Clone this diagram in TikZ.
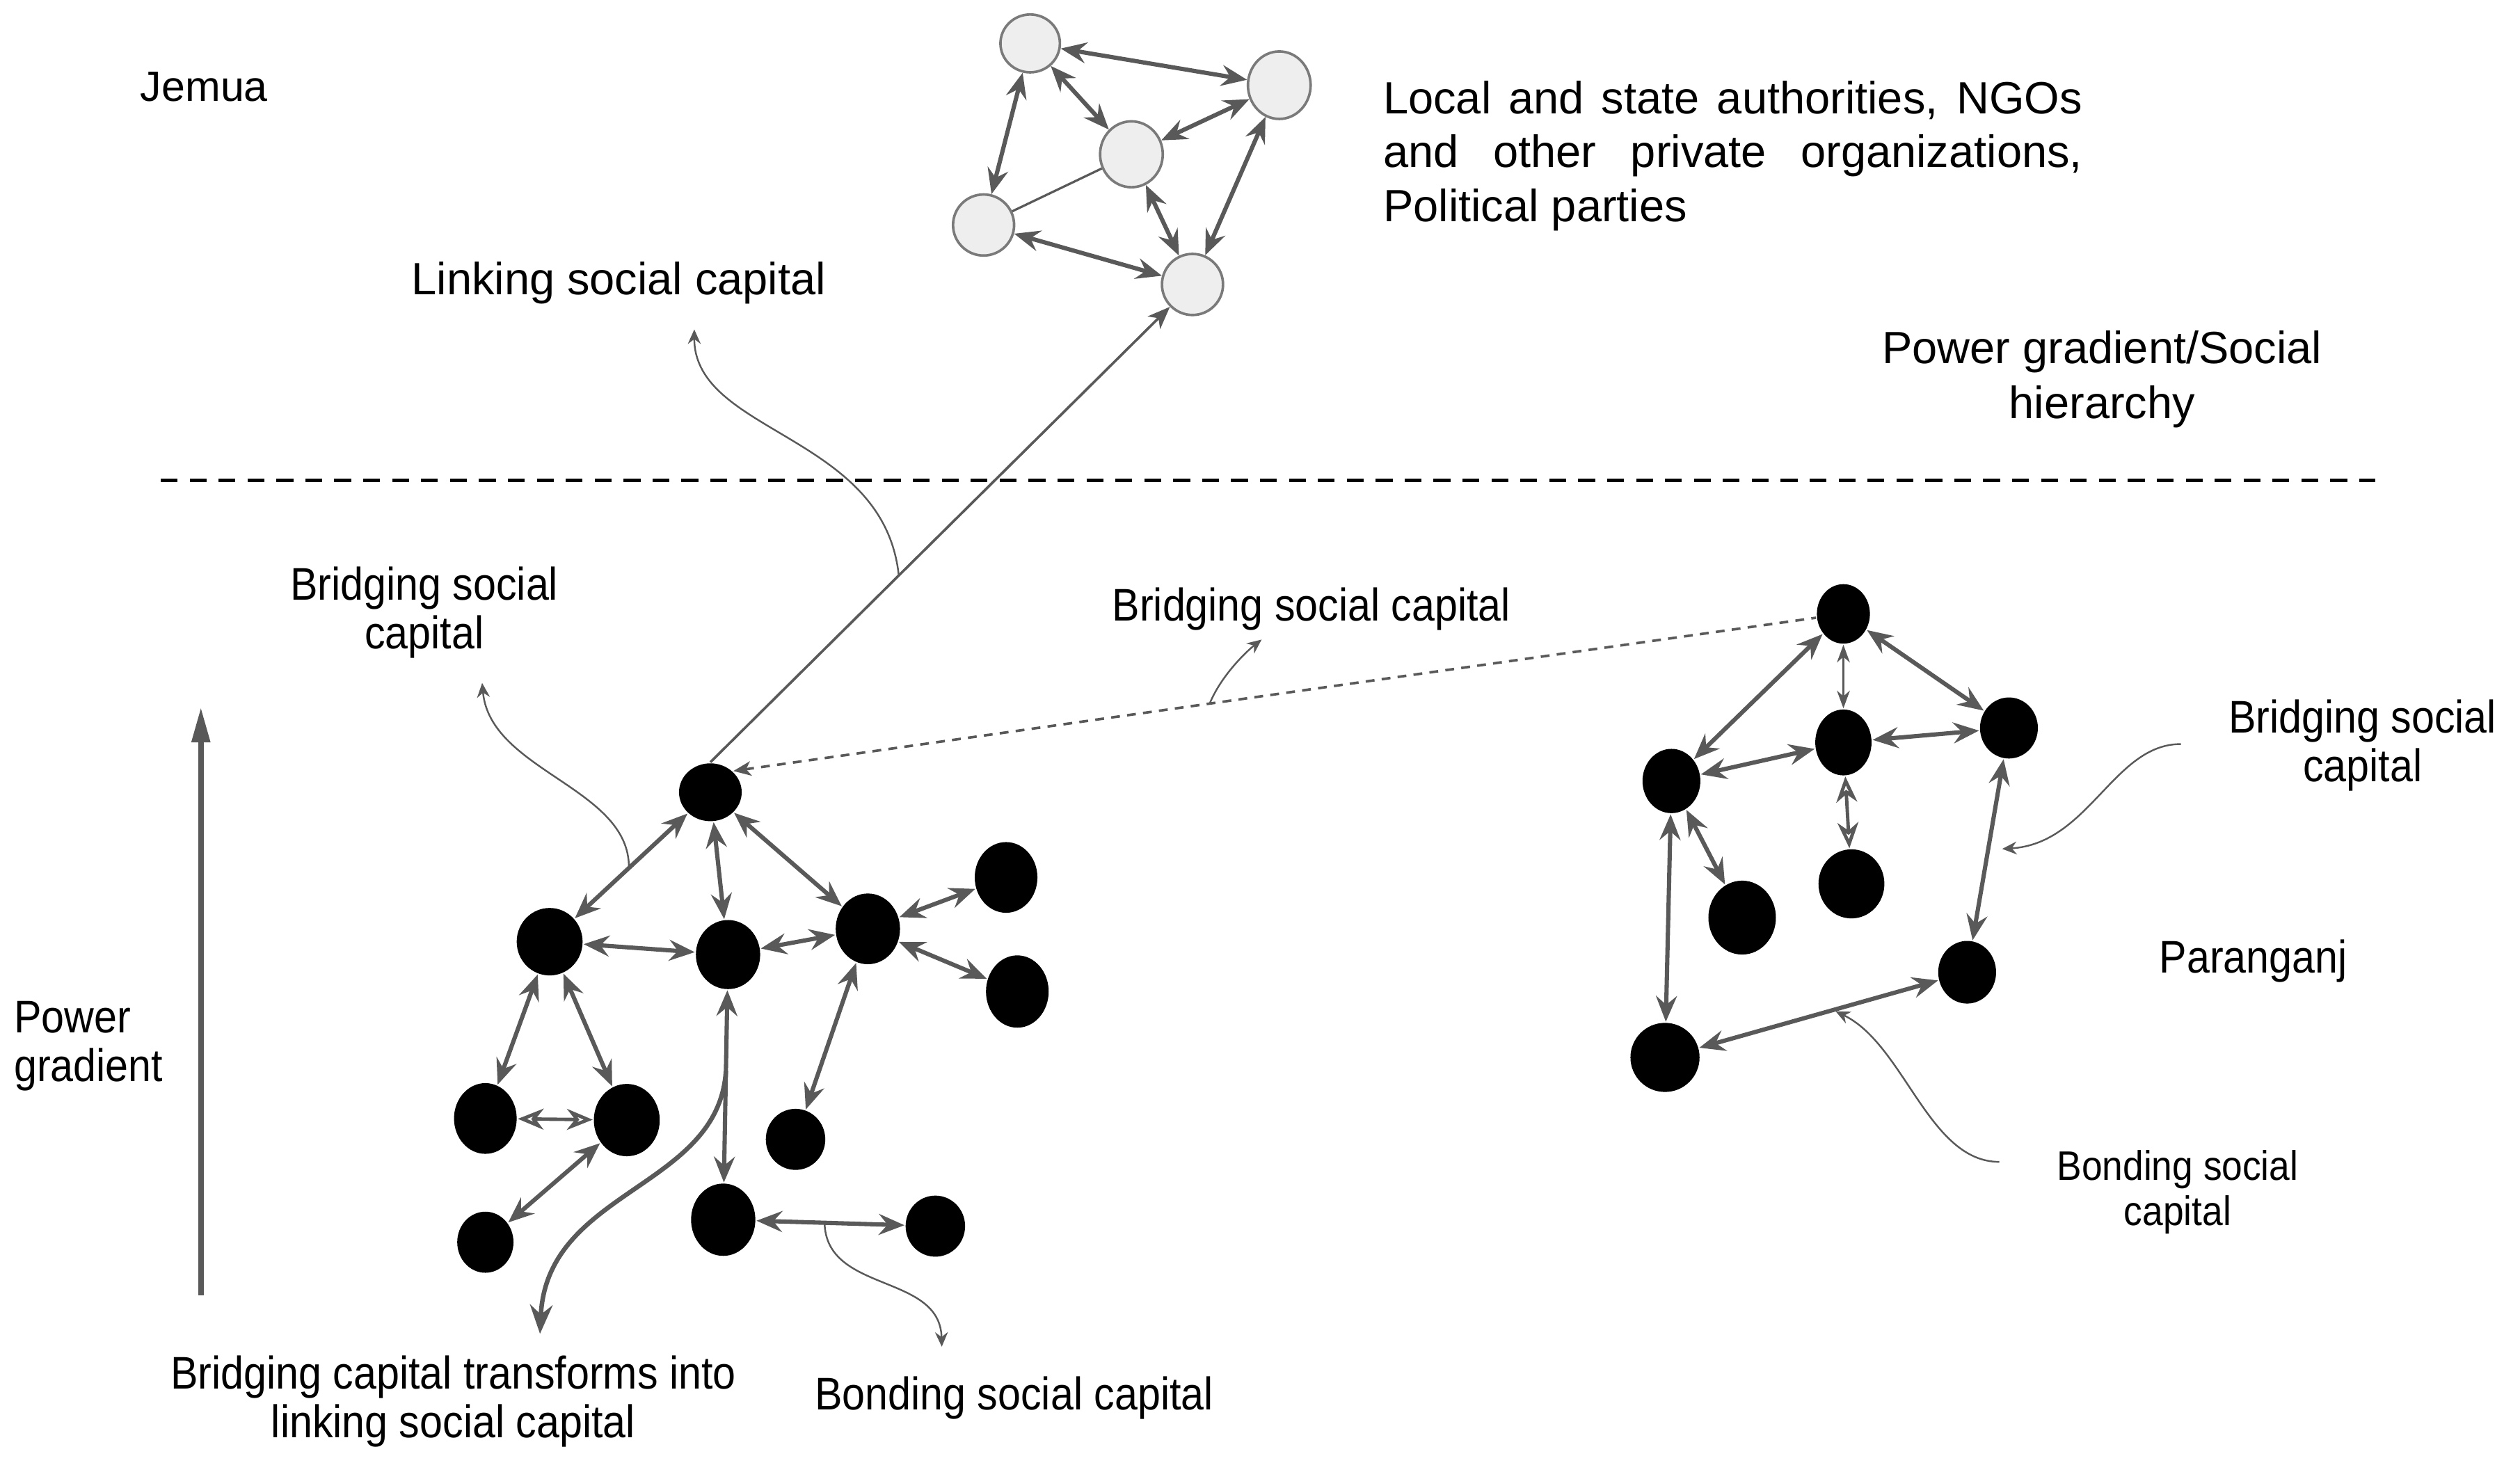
\documentclass[tikz,border=0pt]{standalone}
\usepackage{fontspec}
\setmainfont{Liberation Sans}
\newfontfamily\narrowsf[FakeStretch=0.9]{Liberation Sans}
\usetikzlibrary{arrows.meta,shapes.geometric}
\definecolor{edgegray}{HTML}{595959}
\definecolor{nodefill}{HTML}{EEEEEE}
\definecolor{nodeedge}{HTML}{7A7A7A}
\tikzset{
  gnode/.style={ellipse, draw=nodeedge, fill=nodefill, line width=0.45pt, inner sep=0pt},
  bnode/.style={ellipse, fill=black, inner sep=0pt},
  arr/.style={draw=edgegray, line width=0.75pt, {Stealth[length=1.6mm,width=1.3mm,inset=0.55mm]}-{Stealth[length=1.6mm,width=1.3mm,inset=0.55mm]}},
  tarr/.style={draw=edgegray, line width=0.35pt, {Stealth[length=1.1mm,width=0.8mm,inset=0.35mm]}-{Stealth[length=1.1mm,width=0.8mm,inset=0.35mm]}},
  harr/.style={draw=edgegray, line width=0.6pt, {Stealth[open,length=1.6mm,width=1.3mm,inset=0.5mm]}-{Stealth[open,length=1.6mm,width=1.3mm,inset=0.5mm]}},
  thinln/.style={draw=edgegray, line width=0.4pt},
  lnk/.style={draw=edgegray, line width=0.45pt, -{Stealth[length=1.4mm,width=1.1mm,inset=0.4mm]}},
  dlnk/.style={draw=edgegray, line width=0.45pt, dash pattern=on 0.55mm off 0.45mm, {Stealth[length=1.1mm,width=0.9mm,inset=0.3mm]}-},
  call/.style={draw=edgegray, line width=0.3pt, -{Stealth[length=0.9mm,width=0.8mm,inset=0.3mm]}},
  bigcall/.style={draw=edgegray, line width=0.8pt, -{Stealth[length=1.8mm,width=1.4mm,inset=0.6mm]}},
  divider/.style={draw=black, line width=0.6pt, dash pattern=on 1.05mm off 0.75mm},
  power/.style={draw=edgegray, line width=1pt, -{Triangle[length=2.2mm,width=1.1mm]}},
  lbl/.style={font=\fontsize{8}{9.6}\selectfont, align=center, inner sep=0pt},
  nlbl/.style={font=\narrowsf\fontsize{8.1}{8.6}\selectfont, align=center, inner sep=0pt},
}

\begin{document}
\begin{tikzpicture}[x=0.1mm,y=-0.1mm]
\useasboundingbox (0,0) rectangle (1568,910);
\foreach \n/\x/\y/\w/\h in {g1/641/27/3.7/3.6, g2/796/53/3.9/4.2, g3/704/96/3.9/4.1, g4/612/140/3.8/3.8, g5/742/177/3.8/3.8} {
  \node[gnode, minimum width=\w mm, minimum height=\h mm] (\n) at (\x,\y) {};
}
\foreach \n/\x/\y/\w/\h in {b1/442/493/3.9/3.6, b2/342/586/4.1/4.2, b3/453/594/4.0/4.3, b4/540/578/4.0/4.4, b5/626/546/3.9/4.4, b6/633/617/3.9/4.5, b7/302/696/3.9/4.4, b8/390/697/4.1/4.5, b9/495/709/3.7/3.8, b10/302/773/3.5/3.8, b11/450/759/4.0/4.5, b12/582/763/3.7/3.8} {
  \node[bnode, minimum width=\w mm, minimum height=\h mm] (\n) at (\x,\y) {};
}
\foreach \n/\x/\y/\w/\h in {r1/1147/382/3.3/3.7, r2/1250/453/3.6/3.8, r3/1147/462/3.5/4.1, r4/1040/486/3.6/4.0, r5/1084/571/4.2/4.6, r6/1152/550/4.1/4.3, r7/1224/605/3.6/3.9, r8/1036/658/4.3/4.3} {
  \node[bnode, minimum width=\w mm, minimum height=\h mm] (\n) at (\x,\y) {};
}
\draw[arr] (g1)--(g2); \draw[arr] (g1)--(g3); \draw[arr] (g1)--(g4); \draw[arr] (g3)--(g2);
\draw[arr] (g3)--(g5); \draw[arr] (g2)--(g5); \draw[arr] (g4)--(g5); \draw[thinln] (g4)--(g3);
\draw[arr] (b1)-- coordinate[pos=0.52] (jbl) (b2); \draw[arr] (b1)--(b3); \draw[arr] (b1)--(b4);
\draw[arr] (b2)--(b3); \draw[arr] (b3)--(b4); \draw[arr] (b4)--(b5); \draw[arr] (b4)--(b6);
\draw[arr] (b4)--(b9); \draw[arr] (b2)--(b7); \draw[arr] (b2)--(b8); \draw[harr] (b7)--(b8);
\draw[arr] (b8)--(b10); \draw[arr] (b3)-- coordinate[pos=0.42] (jtr) (b11); \draw[arr] (b11)-- coordinate[pos=0.46] (jbo) (b12);
\draw[arr] (r1)--(r4); \draw[tarr] (r1)--(r3); \draw[arr] (r1)--(r2); \draw[arr] (r2)--(r3);
\draw[arr] (r3)--(r4); \draw[harr] (r3)--(r6); \draw[arr] (r4)--(r5); \draw[arr] (r4)--(r8);
\draw[arr] (r2)-- coordinate[pos=0.5] (jrb) (r7); \draw[arr] (r7)-- coordinate[pos=0.44] (jrbo) (r8);
\draw[lnk] (b1.north)-- coordinate[pos=0.41] (jl) (g5);
\draw[dlnk] (b1.north east)-- coordinate[pos=0.44] (jbm) (r1);
\coordinate (dl) at (100,299); \coordinate (dr) at (1478,299);
\draw[divider] (dl)--(dr);
\coordinate (pg0) at (125,806); \coordinate (pg1) at (125,440);
\draw[power] (pg0)--(pg1);
\coordinate (tl) at (432,205); \coordinate (tbl) at (300,425); \coordinate (tbm) at (785,398);
\coordinate (ttr) at (336,830); \coordinate (tbo) at (586,838);
\coordinate (srb) at (1357,463); \coordinate (srbo) at (1244,723);
\draw[call] (jl) .. controls (550,270) and (432,270) .. (tl);
\draw[call] (jbl) .. controls (392,490) and (305,480) .. (tbl);
\draw[call] (jbm) .. controls (760,420) and (776,405) .. (tbm);
\draw[bigcall] (jtr) .. controls (447,740) and (340,740) .. (ttr);
\draw[call] (jbo) .. controls (514,805) and (585,792) .. (tbo);
\draw[call, shorten >=2.5pt] (srb) .. controls (1315,463) and (1300,525) .. (jrb);
\draw[call, shorten >=0.5pt] (srbo) .. controls (1200,723) and (1185,650) .. (jrbo);
\node[lbl, font=\fontsize{7.5}{9}\selectfont] (jemua) at (127,54) {Jemua};
\node[lbl, anchor=west, text width=43.5mm, align=justify, font=\fontsize{8}{9.5}\selectfont] (actors) at (860,97) {Local and state authorities, NGOs and other private organizations, Political parties};
\node[lbl] (linking) at (385,176) {Linking social capital};
\node[lbl, font=\fontsize{8}{9.7}\selectfont] (hier) at (1308,236) {Power gradient/Social\\hierarchy};
\node[nlbl] (brl) at (264,381) {Bridging social\\capital};
\node[nlbl] (brm) at (816,379) {Bridging social capital};
\node[nlbl, anchor=west, align=left] (pgl) at (8,651) {Power\\gradient};
\node[nlbl] (trl) at (282,872) {Bridging capital transforms into\\linking social capital};
\node[nlbl] (bol) at (631,870) {Bonding social capital};
\node[nlbl] (brr) at (1470,464) {Bridging social\\capital};
\node[nlbl] (para) at (1402,598) {Paranganj};
\node[nlbl, font=\narrowsf\fontsize{7.3}{8}\selectfont] (bor) at (1355,742) {Bonding social\\capital};
\end{tikzpicture}
\end{document}
